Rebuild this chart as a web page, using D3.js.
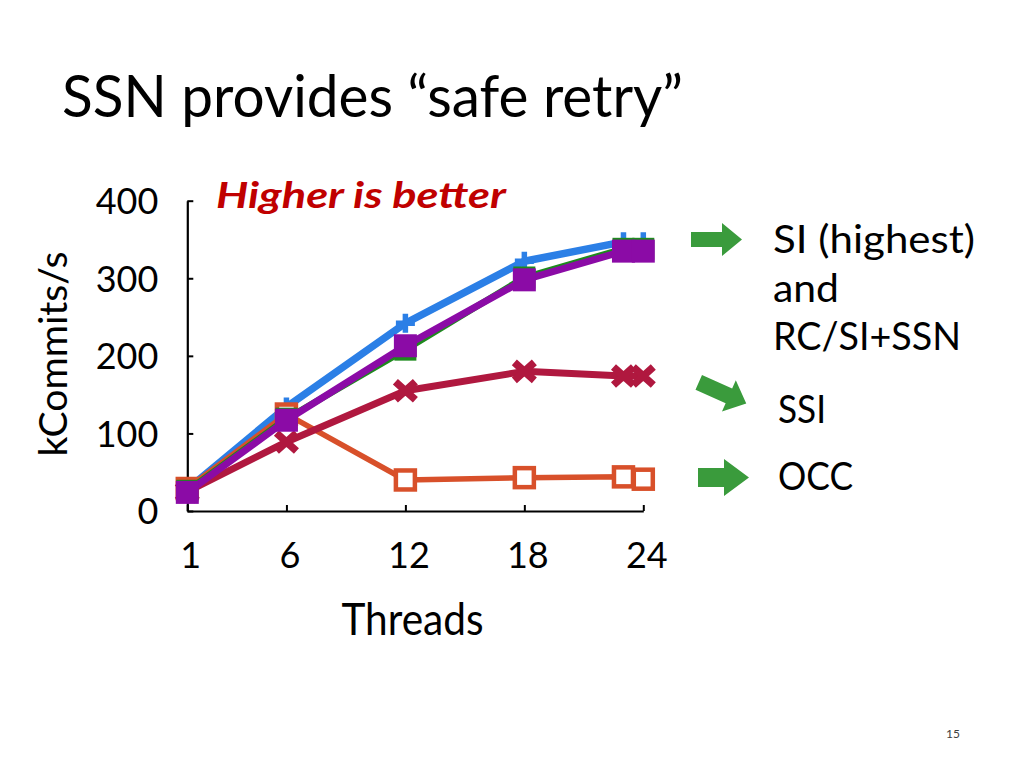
<!DOCTYPE html>
<html><head><meta charset="utf-8">
<script src="https://cdn.jsdelivr.net/npm/d3@7/dist/d3.min.js"></script>
<style>
html,body{margin:0;padding:0;background:#fff;}
svg{display:block;font-family:Lato,"Open Sans",sans-serif;}
</style></head>
<body>
<svg id="chart" width="1024" height="768"></svg>
<script>
// ---- data ----
const threads = [1, 6, 12, 18, 23, 24];
const siValues = [28, 134, 242, 322, 347, 347];        // SI (blue, +)
const rcSsnValues = [26, 119, 208, 301, 338, 338];     // RC+SSN (green)
const siSsnValues = [24, 117, 213, 298, 335, 335];     // SI+SSN (purple, square)
const ssiValues = [25, 89, 155, 180, 174, 174];        // SSI (crimson, x)
const occValues = [29, 125, 40, 43, 44, 41];           // OCC (orange, open square)
const xTicks = [1, 6, 12, 18, 24];
const yTicks = [0, 100, 200, 300, 400];
const titleText = "SSN provides \u201csafe retry\u201d";
const yLabel = "kCommits/s";
const xLabel = "Threads";
const noteText = "Higher is better";
const sideLabels = ["SI (highest)", "and", "RC/SI+SSN", "SSI", "OCC"];
const pageNumber = "15";

const svg = d3.select("#chart");
const x = d3.scaleLinear().domain([1, 24]).range([187.3, 643.3]);
const y = d3.scaleLinear().domain([0, 400]).range([511, 200.7]);

// title
svg.append("text").attr("x", 62).attr("y", 117).attr("font-size", 58)
  .attr("textLength", 621).attr("lengthAdjust", "spacingAndGlyphs")
  .attr("fill", "#000").text(titleText);

// axes
const yAxis = d3.axisLeft(y).tickValues(yTicks).tickSize(-6).tickSizeOuter(0).tickPadding(29);
const gy = svg.append("g").attr("transform", "translate(187.3,0)").call(yAxis);
gy.select(".domain").attr("stroke", "#000").attr("stroke-width", 2.2);
gy.selectAll(".tick line").attr("stroke", "#000").attr("stroke-width", 2);
gy.selectAll(".tick text").attr("font-size", 36).attr("font-family", "Lato").attr("fill", "#000")
  .attr("dy", "0.36em");

const xAxis = d3.axisBottom(x).tickValues(xTicks).tickSize(-6).tickSizeOuter(0);
const gx = svg.append("g").attr("transform", "translate(0,511)").call(xAxis);
gx.select(".domain").attr("stroke", "#000").attr("stroke-width", 2.2);
gx.selectAll(".tick line").attr("stroke", "#000").attr("stroke-width", 2);
gx.selectAll(".tick text").attr("font-size", 36).attr("font-family", "Lato").attr("fill", "#000")
  .attr("y", 57).attr("dy", 0).attr("dx", 3);

// axis titles
svg.append("text").attr("transform", "translate(67,354) rotate(-90)")
  .attr("text-anchor", "middle").attr("font-size", 38)
  .attr("textLength", 205).attr("lengthAdjust", "spacingAndGlyphs").text(yLabel);
svg.append("text").attr("x", 412.5).attr("y", 635).attr("text-anchor", "middle")
  .attr("font-size", 44).attr("textLength", 142).attr("lengthAdjust", "spacingAndGlyphs").text(xLabel);

// note
svg.append("text").attr("x", 216).attr("y", 208).attr("font-size", 37)
  .attr("font-weight", "bold").attr("font-style", "italic").attr("fill", "#c00000")
  .attr("textLength", 290).attr("lengthAdjust", "spacingAndGlyphs").text(noteText);

// series
const line = d3.line().x(d => x(d[0])).y(d => y(d[1]));
function series(vals, color, width) {
  const pts = threads.map((t, i) => [t, vals[i]]);
  svg.append("path").datum(pts).attr("d", line).attr("fill", "none")
    .attr("stroke", color).attr("stroke-width", width).attr("stroke-linejoin", "round");
  return pts;
}
const cBlue = "#2b7fe6", cGreen = "#1d8a1d", cPurple = "#8b0ba6", cCrim = "#b0183f", cOrange = "#d8502a";

// blue SI
const bluePts = series(siValues, cBlue, 7.5);
svg.append("g").selectAll("path").data(bluePts).join("path")
  .attr("d", d => `M${x(d[0]) - 9.5},${y(d[1])}H${x(d[0]) + 9.5}M${x(d[0])},${y(d[1]) - 9.5}V${y(d[1]) + 9.5}`)
  .attr("stroke", cBlue).attr("stroke-width", 5.5).attr("fill", "none");

// orange OCC
const occPts = series(occValues, cOrange, 5.5);
svg.append("g").selectAll("rect").data(occPts).join("rect")
  .attr("x", d => x(d[0]) - 9.5).attr("y", d => y(d[1]) - 9.5)
  .attr("width", 19).attr("height", 19).attr("fill", "#fff")
  .attr("stroke", cOrange).attr("stroke-width", 4.5);

// crimson SSI
const ssiPts = series(ssiValues, cCrim, 7);
svg.append("g").selectAll("path").data(ssiPts).join("path")
  .attr("d", d => `M${x(d[0]) - 10},${y(d[1]) - 9}L${x(d[0]) + 10},${y(d[1]) + 9}M${x(d[0]) - 10},${y(d[1]) + 9}L${x(d[0]) + 10},${y(d[1]) - 9}`)
  .attr("stroke", cCrim).attr("stroke-width", 7.5).attr("fill", "none");

// green RC+SSN
const greenPts = series(rcSsnValues, cGreen, 6.5);
svg.append("g").selectAll("rect").data(greenPts).join("rect")
  .attr("x", d => x(d[0]) - 11).attr("y", d => y(d[1]) - 11)
  .attr("width", 22).attr("height", 22).attr("fill", cGreen);

// purple SI+SSN
const purplePts = series(siSsnValues, cPurple, 7);
svg.append("g").selectAll("rect").data(purplePts).join("rect")
  .attr("x", d => x(d[0]) - 11.5).attr("y", d => y(d[1]) - 11.5)
  .attr("width", 23).attr("height", 23).attr("fill", cPurple);

// arrows
const arrowGreen = "#3a9b3c";
function arrow(cx, cy, angle, halfLen, headLen, shaftH, headH) {
  const p = [[-halfLen, -shaftH], [halfLen - headLen, -shaftH], [halfLen - headLen, -headH],
             [halfLen, 0], [halfLen - headLen, headH], [halfLen - headLen, shaftH], [-halfLen, shaftH]];
  svg.append("path").attr("d", "M" + p.map(q => q.join(",")).join("L") + "Z")
    .attr("fill", arrowGreen)
    .attr("transform", `translate(${cx},${cy}) rotate(${angle})`);
}
arrow(716.5, 239.5, 0, 25.5, 20, 7.5, 16.5);
arrow(722.5, 393, 24, 26, 19, 8, 17);
arrow(723.5, 477.5, 0, 25.5, 25, 9.5, 18.5);

// side labels
const sidePos = [[773, 253, 202], [773, 302, 66], [773, 349.5, 188], [778, 423, 48], [778, 490, 75]];
sideLabels.forEach((t, i) => {
  svg.append("text").attr("x", sidePos[i][0]).attr("y", sidePos[i][1])
    .attr("font-size", 39).attr("textLength", sidePos[i][2]).attr("lengthAdjust", "spacingAndGlyphs")
    .attr("fill", "#000").text(t);
});

svg.append("text").attr("x", 953).attr("y", 738).attr("text-anchor", "middle")
  .attr("font-size", 12).attr("fill", "#404040").text(pageNumber);
</script>
</body></html>
